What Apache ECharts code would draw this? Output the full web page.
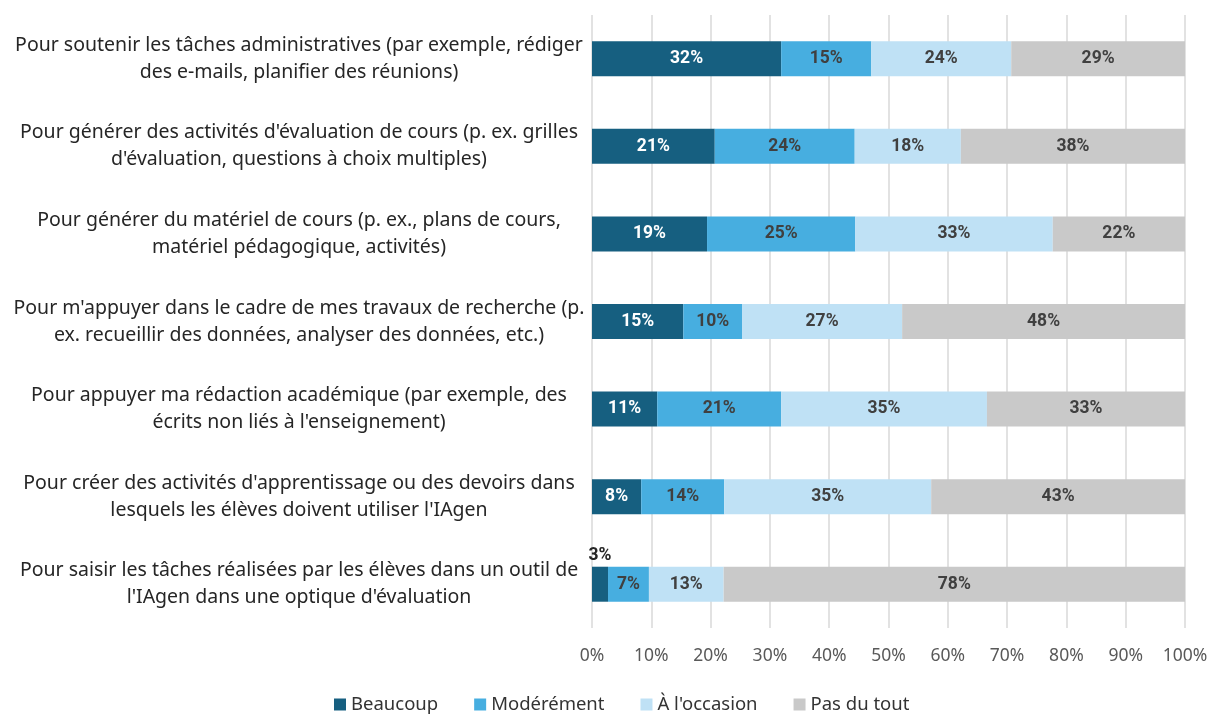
<!DOCTYPE html>
<html>
<head>
<meta charset="utf-8">
<script src="https://cdn.jsdelivr.net/npm/echarts@6/dist/echarts.min.js"></script>
<style>
html,body{margin:0;padding:0;background:#fff;}
#main{width:1212px;height:715px;}
</style>
</head>
<body>
<div id="main"></div>
<script>
// catégories (de haut en bas)
var categories = [
    "Pour soutenir les tâches administratives (par exemple, rédiger\ndes e-mails, planifier des réunions)",
    "Pour générer des activités d'évaluation de cours (p. ex. grilles\nd'évaluation, questions à choix multiples)",
    "Pour générer du matériel de cours (p. ex., plans de cours,\nmatériel pédagogique, activités)",
    "Pour m'appuyer dans le cadre de mes travaux de recherche (p.\nex. recueillir des données, analyser des données, etc.)",
    "Pour appuyer ma rédaction académique (par exemple, des\nécrits non liés à l'enseignement)",
    "Pour créer des activités d'apprentissage ou des devoirs dans\nlesquels les élèves doivent utiliser l'IAgen",
    "Pour saisir les tâches réalisées par les élèves dans un outil de\nl'IAgen dans une optique d'évaluation"
];
var seriesNames = ["Beaucoup", "Modérément", "À l'occasion", "Pas du tout"];
var beaucoup   = [31.9, 20.7, 19.4, 15.4, 11.0, 8.3, 2.7];
var moderement = [15.2, 23.6, 25.0, 9.9, 20.9, 14.0, 6.9];
var occasion   = [23.6, 17.9, 33.3, 27.0, 34.7, 34.9, 12.6];
var pasDuTout  = [29.3, 37.8, 22.3, 47.7, 33.4, 42.8, 77.8];
var xTicks = [0, 10, 20, 30, 40, 50, 60, 70, 80, 90, 100];

var colors = ["#165f80", "#47aee0", "#bfe1f5", "#c9c9c9"];
var labelColors = ["#ffffff", "#404040", "#404040", "#404040"];
var font = "Noto Sans";
var labelFont = "Roboto";

var myChart = echarts.init(document.getElementById('main'));

function buildSeries(){
    var all = [beaucoup, moderement, occasion, pasDuTout];
    var series = [];
    for (var i = 0; i < all.length; i++) {
        var data = [];
        for (var j = 0; j < all[i].length; j++) {
            var item = { value: all[i][j] };
            // petite valeur : étiquette au-dessus de la barre
            if (all[i][j] < 5) {
                item.label = { position: 'top', color: '#262626', distance: 2 };
            }
            data.push(item);
        }
        series.push({
            name: seriesNames[i],
            type: 'bar',
            stack: 'total',
            barWidth: 35,
            itemStyle: { color: colors[i] },
            label: {
                show: true,
                position: 'inside',
                color: labelColors[i],
                fontFamily: labelFont,
                fontWeight: 'bold',
                fontSize: 17.5,
                formatter: function (p) { return Math.round(p.value) + '%'; }
            },
            emphasis: { disabled: true },
            data: data
        });
    }
    return series;
}

var option = {
    animation: false,
    textStyle: { fontFamily: font },
    grid: { left: 592, right: 27, top: 15, bottom: 87, containLabel: false },
    legend: {
        data: seriesNames,
        bottom: -4,
        left: 329,
        icon: 'rect',
        itemWidth: 12,
        itemHeight: 12,
        itemGap: 36,
        textStyle: { fontFamily: font, fontSize: 18.5, color: '#333333' }
    },
    xAxis: {
        type: 'value',
        min: 0,
        max: 100,
        interval: 10,
        axisLine: { show: false },
        axisTick: { show: false },
        splitLine: { show: true, lineStyle: { color: '#d9d9d9', width: 1.5 } },
        axisLabel: {
            color: '#595959',
            fontSize: 17.5,
            margin: 19,
            formatter: function (v) { return xTicks.indexOf(v) >= 0 ? v + '%' : ''; }
        }
    },
    yAxis: {
        type: 'category',
        inverse: true,
        data: categories,
        axisLine: { show: false },
        axisTick: { show: false },
        axisLabel: {
            color: '#262626',
            fontSize: 19.5,
            lineHeight: 27,
            align: 'center',
            margin: 293
        }
    },
    series: buildSeries()
};
myChart.setOption(option);
</script>
</body>
</html>
